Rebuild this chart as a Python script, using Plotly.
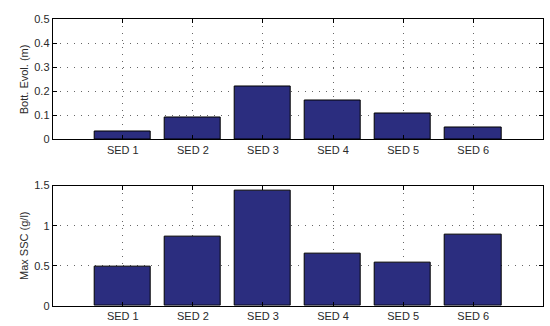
import plotly.graph_objects as go
from plotly.subplots import make_subplots

categories = ["SED 1", "SED 2", "SED 3", "SED 4", "SED 5", "SED 6"]
bottom_evolution = [0.033, 0.091, 0.222, 0.163, 0.107, 0.050]
max_ssc = [0.495, 0.86, 1.44, 0.656, 0.536, 0.884]

positions = list(range(1, len(categories) + 1))
bar_fill = "rgb(43,45,127)"
label_font = dict(family="Liberation Sans, Arial, sans-serif", size=11, color="#2a2a2a")

fig = make_subplots(rows=2, cols=1)

fig.add_trace(go.Bar(x=positions, y=bottom_evolution, width=0.8,
                     marker=dict(color=bar_fill, line=dict(color="black", width=1))),
              row=1, col=1)
fig.add_trace(go.Bar(x=positions, y=max_ssc, width=0.8,
                     marker=dict(color=bar_fill, line=dict(color="black", width=1))),
              row=2, col=1)

axis_common = dict(
    showline=True, linecolor="black", linewidth=1, mirror="ticks",
    ticks="inside", ticklen=4, tickcolor="black",
    showgrid=True, gridcolor="rgba(0,0,0,0.6)", griddash="1px,6px", gridwidth=1,
    zeroline=False,
    tickfont=label_font,
)

x_domain = [52.7 / 550, 543.3 / 550]
fig.update_xaxes(**axis_common, range=[0, 7], tickvals=positions, ticktext=categories,
                 domain=x_domain)
fig.update_yaxes(**axis_common)

fig.update_yaxes(range=[0, 0.5], dtick=0.1, tickformat=".1~f",
                 domain=[1 - 138.5 / 326, 1 - 14 / 326],
                 title=dict(text="Bott. Evol. (m)", standoff=3, font=label_font),
                 row=1, col=1)
fig.update_yaxes(range=[0, 1.5], tickvals=[0, 0.5, 1, 1.5], ticktext=["0", "0.5", "1", "1.5"],
                 domain=[1 - 311.3 / 326, 1 - 186.5 / 326],
                 title=dict(text="Max SSC (g/l)", standoff=3, font=label_font),
                 row=2, col=1)

fig.update_layout(
    width=550, height=326, margin=dict(l=0, r=0, t=0, b=0),
    plot_bgcolor="white", paper_bgcolor="white",
    showlegend=False, bargap=0,
)

fig.write_html("out.html")
